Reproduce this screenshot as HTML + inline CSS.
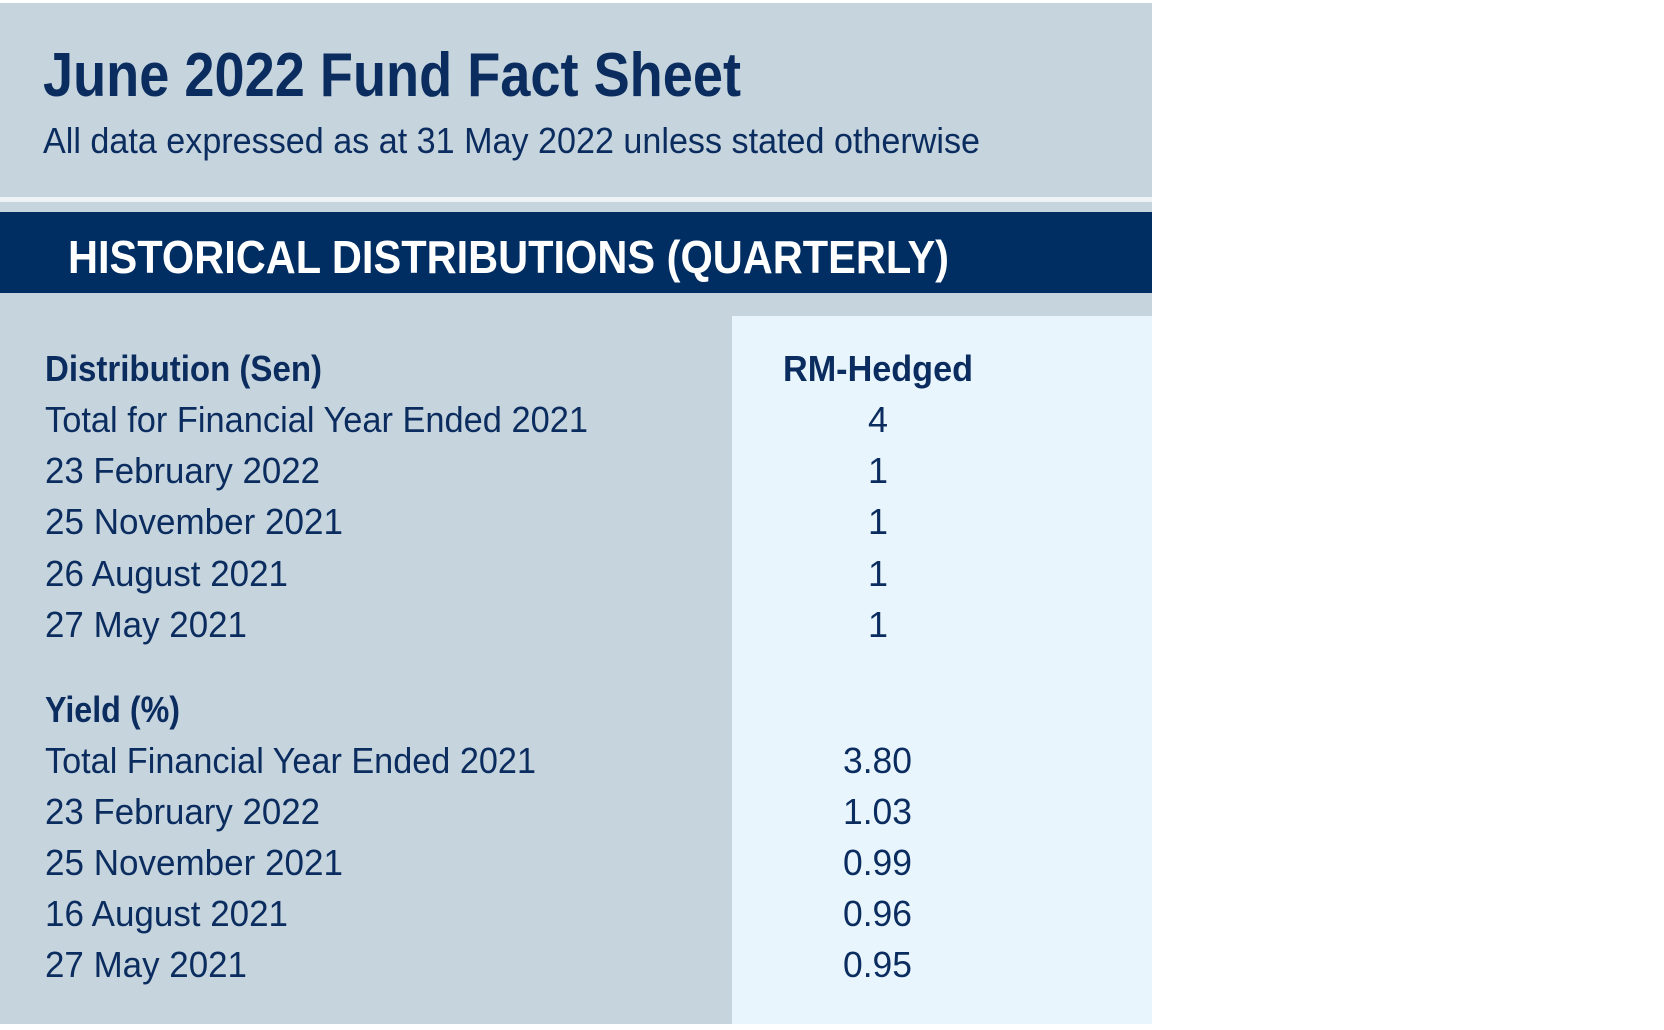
<!DOCTYPE html>
<html><head><meta charset="utf-8"><style>html,body{margin:0;padding:0;background:#fff;}svg{display:block;}</style></head>
<body>
<svg width="1664" height="1030" viewBox="0 0 1664 1030" xmlns="http://www.w3.org/2000/svg" font-family="Liberation Sans, sans-serif">
<rect x="0" y="3" width="1152" height="1021" fill="#c6d4dd"/>
<rect x="0" y="197" width="1152" height="5" fill="#eef3f6"/>
<rect x="0" y="212" width="1152" height="81" fill="#002d62"/>
<rect x="732" y="316" width="420" height="708" fill="#e8f5fd"/>
<g fill="#0b2c5f">
<text x="43" y="96" font-size="62" font-weight="bold" textLength="698" lengthAdjust="spacingAndGlyphs">June 2022 Fund Fact Sheet</text>
<text x="43" y="153" font-size="36" textLength="937" lengthAdjust="spacingAndGlyphs">All data expressed as at 31 May 2022 unless stated otherwise</text>
</g>
<text x="68" y="273" font-size="46" font-weight="bold" fill="#fff" textLength="881" lengthAdjust="spacingAndGlyphs">HISTORICAL DISTRIBUTIONS (QUARTERLY)</text>
<g transform="translate(0,-1)">
<g fill="#0b2c5f" font-size="36">
<text x="45" y="382" font-weight="bold" textLength="277" lengthAdjust="spacingAndGlyphs">Distribution (Sen)</text>
<text x="783" y="382" font-weight="bold" textLength="190" lengthAdjust="spacingAndGlyphs">RM-Hedged</text>
<text x="45" y="433" textLength="543" lengthAdjust="spacingAndGlyphs">Total for Financial Year Ended 2021</text>
<text x="45" y="484" textLength="275" lengthAdjust="spacingAndGlyphs">23 February 2022</text>
<text x="45" y="535" textLength="298" lengthAdjust="spacingAndGlyphs">25 November 2021</text>
<text x="45" y="587" textLength="243" lengthAdjust="spacingAndGlyphs">26 August 2021</text>
<text x="45" y="638" textLength="202" lengthAdjust="spacingAndGlyphs">27 May 2021</text>
<g text-anchor="middle">
<text x="878" y="433">4</text>
<text x="878" y="484">1</text>
<text x="878" y="535">1</text>
<text x="878" y="587">1</text>
<text x="878" y="638">1</text>
</g>
<text x="45" y="723" font-weight="bold" textLength="135" lengthAdjust="spacingAndGlyphs">Yield (%)</text>
<text x="45" y="774" textLength="491" lengthAdjust="spacingAndGlyphs">Total Financial Year Ended 2021</text>
<text x="45" y="825" textLength="275" lengthAdjust="spacingAndGlyphs">23 February 2022</text>
<text x="45" y="876" textLength="298" lengthAdjust="spacingAndGlyphs">25 November 2021</text>
<text x="45" y="927" textLength="243" lengthAdjust="spacingAndGlyphs">16 August 2021</text>
<text x="45" y="978" textLength="202" lengthAdjust="spacingAndGlyphs">27 May 2021</text>
<text x="843" y="774" textLength="69" lengthAdjust="spacingAndGlyphs">3.80</text>
<text x="843" y="825" textLength="69" lengthAdjust="spacingAndGlyphs">1.03</text>
<text x="843" y="876" textLength="69" lengthAdjust="spacingAndGlyphs">0.99</text>
<text x="843" y="927" textLength="69" lengthAdjust="spacingAndGlyphs">0.96</text>
<text x="843" y="978" textLength="69" lengthAdjust="spacingAndGlyphs">0.95</text>
</g>
</g>
</svg>
</body></html>
